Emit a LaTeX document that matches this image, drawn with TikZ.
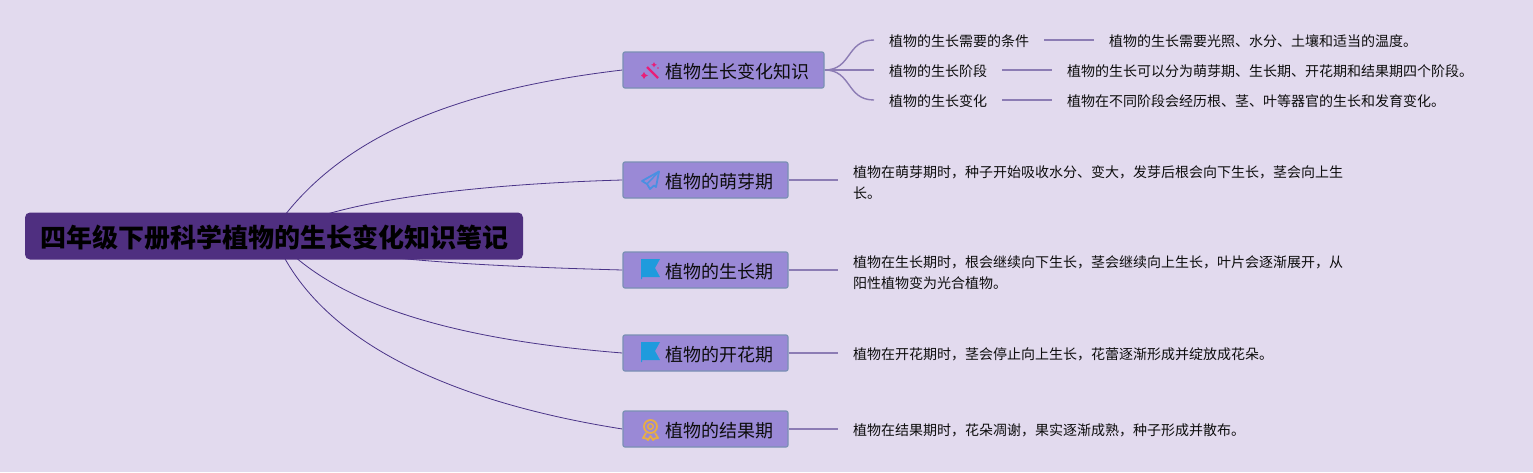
\documentclass[tikz,border=0pt]{standalone}
\usepackage{fontspec}
\setmainfont{Noto Sans CJK SC}
\usetikzlibrary{backgrounds,calc}
\definecolor{bgc}{HTML}{E2DAEE}
\definecolor{rootc}{HTML}{4F2F80}
\definecolor{topicc}{HTML}{9A89D6}
\definecolor{topicb}{HTML}{7A90B4}
\definecolor{linea}{HTML}{4A3488}
\definecolor{lineb}{HTML}{8C7CB4}
\definecolor{iconb}{HTML}{1E9BDD}
\definecolor{iconp}{HTML}{4A90E2}
\definecolor{iconr}{HTML}{E91E78}
\definecolor{icong}{HTML}{E8AE45}
\tikzset{
  x=1pt,y=-1pt,
  rootbox/.style={draw=none,fill=rootc,rounded corners=5pt,minimum width=498pt,minimum height=47pt,inner sep=0pt,text=black,text height=26.9pt,text depth=3.1pt,font=\fontsize{26}{30}\selectfont\bfseries},
  topicbox/.style={draw=topicb,line width=1.2pt,fill=topicc,rounded corners=2pt,minimum height=36pt,inner sep=0pt,text=black!95,text height=18.8pt,text depth=2.2pt,font=\fontsize{18}{22}\selectfont},
  leaf/.style={anchor=west,inner sep=0pt,outer xsep=15pt,align=left,text=black!95,font=\fontsize{14}{21}\selectfont},
  mainline/.style={draw=linea,line width=0.8pt},
  subline/.style={draw=lineb,line width=1.4pt},
}
\begin{document}
\begin{tikzpicture}
\useasboundingbox (0,0) rectangle (1533,472);
% nodes
\node[rootbox] (root) at (274,236) {四年级下册科学植物的生长变化知识笔记};
\node[topicbox,minimum width=201pt] (t1) at (723.5,70) {\hspace*{28pt}植物生长变化知识};
\node[topicbox,minimum width=165pt] (t2) at (705.5,180) {\hspace*{28pt}植物的萌芽期};
\node[topicbox,minimum width=165pt] (t3) at (705.5,270) {\hspace*{28pt}植物的生长期};
\node[topicbox,minimum width=165pt] (t4) at (705.5,353) {\hspace*{28pt}植物的开花期};
\node[topicbox,minimum width=165pt] (t5) at (705.5,429) {\hspace*{28pt}植物的结果期};
% first level leaves
\node[leaf] (s1) at (874,41.5) {植物的生长需要的条件};
\node[leaf] (s2) at (874,71.5) {植物的生长阶段};
\node[leaf] (s3) at (874,101.5) {植物的生长变化};
\node[leaf] (s1d) at (1094,41.5) {植物的生长需要光照、水分、土壤和适当的温度。};
\node[leaf] (s2d) at (1052,71.5) {植物的生长可以分为萌芽期、生长期、开花期和结果期四个阶段。};
\node[leaf] (s3d) at (1052,101.5) {植物在不同阶段会经历根、茎、叶等器官的生长和发育变化。};
\node[leaf] (d2) at (838,182.5) {植物在萌芽期时，种子开始吸收水分、变大，发芽后根会向下生长，茎会向上生\\长。};
\node[leaf] (d3) at (838,272.5) {植物在生长期时，根会继续向下生长，茎会继续向上生长，叶片会逐渐展开，从\\阳性植物变为光合植物。};
\node[leaf] (d4) at (838,354.5) {植物在开花期时，茎会停止向上生长，花蕾逐渐形成并绽放成花朵。};
\node[leaf] (d5) at (838,430.5) {植物在结果期时，花朵凋谢，果实逐渐成熟，种子形成并散布。};
% connectors, behind the boxes
\begin{pgfonlayer}{background}
\fill[bgc] (0,0) rectangle (1533,472);
\draw[mainline] ($(root.center)+(-2,-3)$) .. controls (340,130) and (470,88) .. (t1.west);
\draw[mainline] (root.center) .. controls (330,200) and (480,184) .. (t2.west);
\draw[mainline] (root.center) .. controls (345,259) and (475,266) .. (t3.west);
\draw[mainline] (root.center) .. controls (335,307) and (460,340) .. (t4.west);
\draw[mainline] (root.center) .. controls (320,350) and (470,405) .. (t5.west);
\draw[subline] (t1.east) .. controls (852,70) and (846,40) .. ($(s1.west)+(0,-1.5)$);
\draw[subline] (t1.east) -- ($(s2.west)+(0,-1.5)$);
\draw[subline] (t1.east) .. controls (852,70) and (846,100) .. ($(s3.west)+(0,-1.5)$);
\draw[subline] ($(s1.east)+(0,-1.5)$) -- ($(s1d.west)+(0,-1.5)$);
\draw[subline] ($(s2.east)+(0,-1.5)$) -- ($(s2d.west)+(0,-1.5)$);
\draw[subline] ($(s3.east)+(0,-1.5)$) -- ($(s3d.west)+(0,-1.5)$);
\draw[subline] (t2.east) -- ($(d2.west)+(0,-2.5)$);
\draw[subline] (t3.east) -- ($(d3.west)+(0,-2.5)$);
\draw[subline] (t4.east) -- ($(d4.west)+(0,-1.5)$);
\draw[subline] (t5.east) -- ($(d5.west)+(0,-1.5)$);
\end{pgfonlayer}
% icons
\draw[iconr,line width=2.4pt] (647,67) -- (658,78);
\fill[iconr] (644,72) -- (645.3,74.2) -- (648,75.5) -- (645.3,76.8) -- (644,79) -- (642.7,76.8) -- (641,75.5) -- (642.7,74.2) -- cycle;
\fill[iconr] (654,62) -- (654.9,64) -- (656.8,64.8) -- (654.9,65.6) -- (654,67.5) -- (653.1,65.6) -- (651.2,64.8) -- (653.1,64) -- cycle;
\fill[iconr] (658,68) circle (0.8pt);
\draw[iconp,line width=1.8pt,line join=round] (659,171.5) -- (642,181) -- (647,184) -- (650,189) -- (654,185.5) -- (656,187) -- cycle;
\draw[iconp,line width=1.4pt,line join=round] (659,171.5) -- (647,184);
\foreach \y in {259,342}{
  \fill[iconb] (641,\y) -- (660,\y) -- (655,\y+9) -- (660,\y+18) -- (642,\y+18) -- (642,\y+20) -- (641,\y+20) -- cycle;
}
\draw[icong,line width=1.8pt] (650.5,426.5) circle (6.5pt);
\draw[icong,line width=1.5pt] (650.5,426.5) circle (2.8pt);
\draw[icong,line width=1.8pt,line join=round] (646,433) -- (643,438) -- (646.5,438.5) -- (648,440) -- (650.5,436) -- (653,440) -- (654.5,438.5) -- (658,438) -- (655,433);
\end{tikzpicture}
\end{document}
